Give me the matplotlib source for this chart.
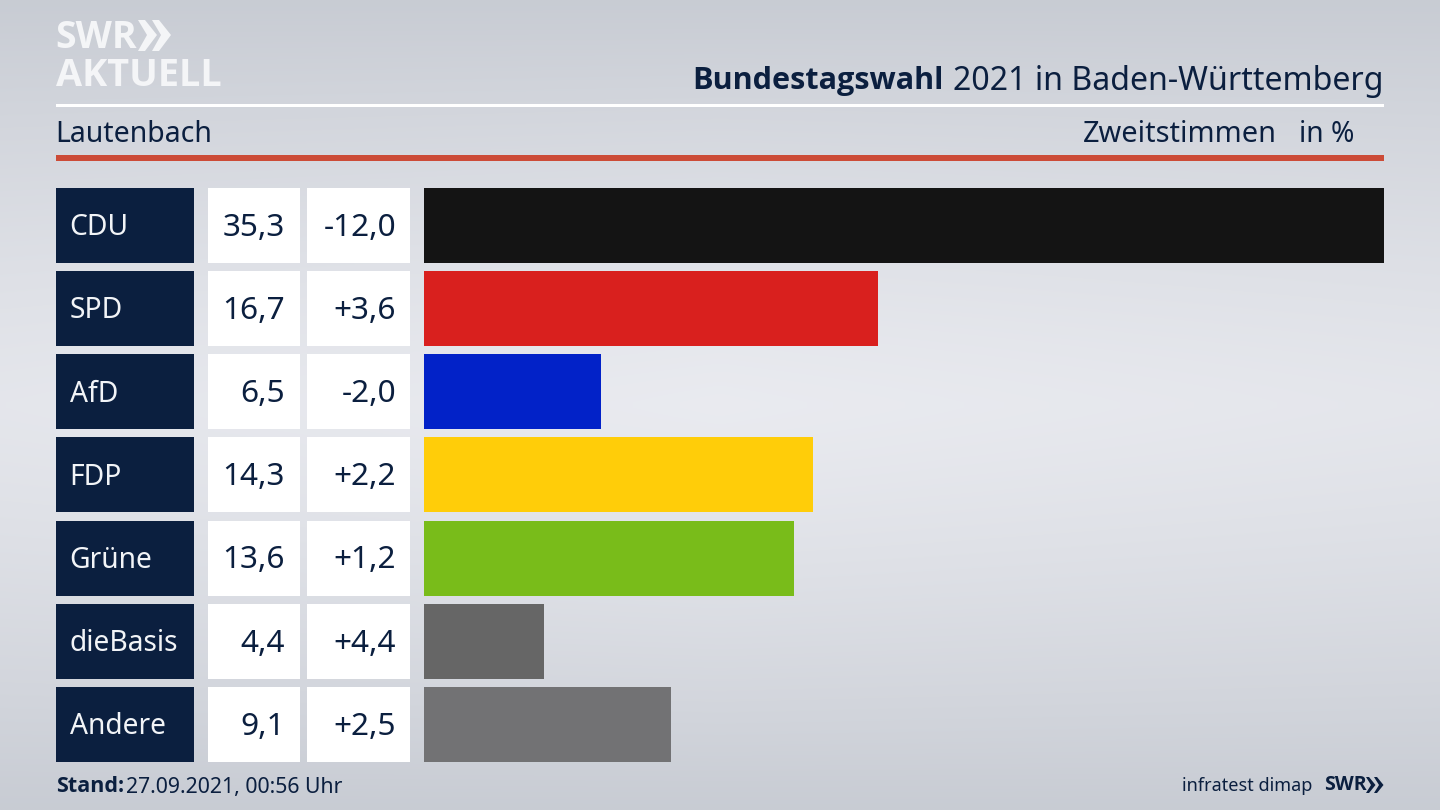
import numpy as np
import matplotlib.pyplot as plt
from matplotlib.patches import Rectangle, Polygon

plt.rcParams['font.family'] = ['Noto Sans', 'DejaVu Sans']
BOLD = ['Open Sans', 'DejaVu Sans']

parties = ['CDU', 'SPD', 'AfD', 'FDP', 'Grüne', 'dieBasis', 'Andere']
shares = [35.3, 16.7, 6.5, 14.3, 13.6, 4.4, 9.1]
diffs = ['-12,0', '+3,6', '-2,0', '+2,2', '+1,2', '+4,4', '+2,5']
colors = ['#141414', '#d9201e', '#0222c8', '#ffcd09', '#79bc1a', '#666666', '#727274']

NAVY = '#0b1f3f'

fig = plt.figure(figsize=(14.4, 8.1), dpi=100)

# whole figure in pixel coordinates for the frame
bg = fig.add_axes([0, 0, 1, 1])
bg.set_xlim(0, 1440)
bg.set_ylim(810, 0)
bg.axis('off')

# background, light band in the middle, darker top and bottom
yy, xx = np.mgrid[0:1:162j, 0:1:288j]
shade = 1 - np.clip(np.abs(yy - 0.5) / 0.5, 0, 1) ** 1.3
shade = shade * (1 - 0.15 * np.abs(xx - 0.5) * 2)
top = np.array([0.785, 0.80, 0.83])
mid = np.array([0.915, 0.92, 0.94])
img = top + (mid - top) * shade[..., None]
bg.imshow(img, extent=[0, 1440, 810, 0], aspect='auto', interpolation='bilinear')

# header lines
bg.add_patch(Rectangle((56, 104), 1328, 3, color='white', lw=0))
bg.add_patch(Rectangle((56, 155), 1328, 5.5, color='#cc4b37', lw=0))

# logo
bg.text(55, 38, 'SWR', fontsize=27, fontweight='bold', family=BOLD, color='#f4f5f7', va='center', ha='left')
bg.text(55.5, 75.5, 'AKTUELL', fontsize=27.3, fontweight='bold', family=BOLD, color='#f4f5f7', va='center', ha='left')
for x0 in (138, 152):
    bg.add_patch(Polygon([(x0, 20), (x0 + 7, 20), (x0 + 19, 35), (x0 + 7, 51), (x0, 51), (x0 + 9, 35)],
                         color='#f4f5f7', lw=0))

# titles
bg.text(944, 81, 'Bundestagswahl', fontsize=22.1, fontweight='bold', family=BOLD, color=NAVY, va='center', ha='right')
bg.text(953, 81, '2021 in Baden-Württemberg', fontsize=23.1, color=NAVY, va='center', ha='left')
bg.text(55, 134, 'Lautenbach', fontsize=20.5, color=NAVY, va='center', ha='left')
bg.text(1277, 134, 'Zweitstimmen', fontsize=20.8, color=NAVY, va='center', ha='right')
bg.text(1354, 134, 'in %', fontsize=20.3, color=NAVY, va='center', ha='right')

# table cells left of the bars
pitch = (762 - 187.5 - 75) / 6
for i, party in enumerate(parties):
    y0 = 187.5 + i * pitch
    ymid = y0 + 40
    bg.add_patch(Rectangle((56, y0), 137.5, 75, color=NAVY, lw=0))
    bg.add_patch(Rectangle((208, y0), 91.5, 75, color='white', lw=0))
    bg.add_patch(Rectangle((307, y0), 103, 75, color='white', lw=0))
    bg.text(69.5, ymid, party, fontsize=20.3, color='#f2f4f7', va='center', ha='left')
    bg.text(285, ymid, f'{shares[i]:.1f}'.replace('.', ','), fontsize=22.7, color=NAVY, va='center', ha='right')
    bg.text(396, ymid, diffs[i], fontsize=22.7, color=NAVY, va='center', ha='right')

# footer
bg.text(56, 787, 'Stand:', fontsize=15.5, fontweight='bold', family=BOLD, color=NAVY, va='center', ha='left')
bg.text(126, 787, '27.09.2021, 00:56 Uhr', fontsize=15.3, color=NAVY, va='center', ha='left')
bg.text(1312, 786, 'infratest dimap', fontsize=13, color=NAVY, va='center', ha='right')
bg.text(1324, 785, 'SWR', fontsize=14, fontweight='bold', family=BOLD, color=NAVY, va='center', ha='left')
for x0 in (1366, 1374):
    bg.add_patch(Polygon([(x0, 777), (x0 + 3, 777), (x0 + 9.5, 785), (x0 + 3, 793), (x0, 793), (x0 + 5, 785)],
                         color=NAVY, lw=0))

# the bars
top_px = 187.5 - (pitch - 75) / 2
ax = fig.add_axes([424 / 1440, 1 - (top_px + 7 * pitch) / 810, (1384 - 424) / 1440, 7 * pitch / 810])
ax.barh(range(len(parties)), shares, height=75 / pitch, color=colors)
ax.set_xlim(0, 35.3)
ax.set_ylim(6.5, -0.5)
ax.axis('off')

fig.savefig('out.png', dpi=100)
